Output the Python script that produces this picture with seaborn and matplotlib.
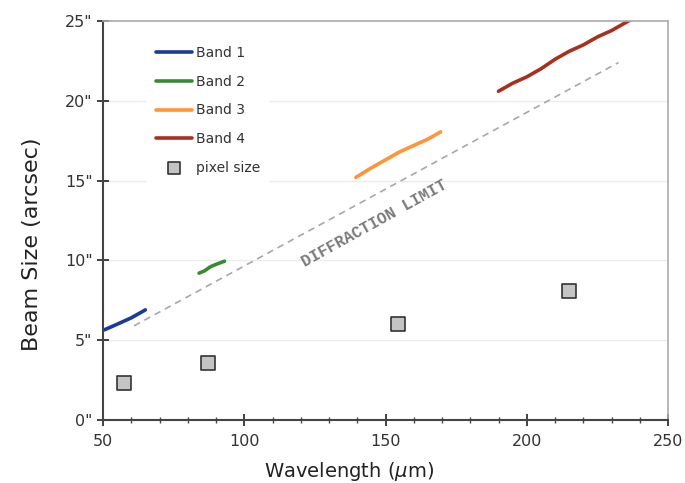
import numpy as np
import pandas as pd
import matplotlib
matplotlib.use("Agg")
import matplotlib.pyplot as plt
import seaborn as sns
from matplotlib.ticker import MultipleLocator, FuncFormatter

band1_wl = [50.5, 55, 60, 65]
band1_beam = [5.65, 6.0, 6.4, 6.9]
band2_wl = [84, 86, 88, 90, 93]
band2_beam = [9.2, 9.35, 9.6, 9.75, 9.95]
band3_wl = [139.5, 145, 150, 155, 160, 165, 169.5]
band3_beam = [15.2, 15.8, 16.3, 16.8, 17.2, 17.6, 18.05]
band4_wl = [190, 195, 200, 205, 210, 215, 220, 225, 230, 235, 238]
band4_beam = [20.6, 21.1, 21.5, 22.0, 22.6, 23.1, 23.5, 24.0, 24.4, 24.9, 25.2]
diff_wl = [61, 232.5]
diff_beam = [5.9, 22.4]
pixel_wl = [57.4, 87.2, 154.3, 214.9]
pixel_size = [2.3, 3.55, 6.0, 8.1]
band_names = ["Band 1", "Band 2", "Band 3", "Band 4"]
band_colors = ["#1a3a9c", "#3a8a34", "#ff9438", "#a8301f"]

sns.set_style("white")
fig = plt.figure(figsize=(6.85, 4.83), dpi=100)
ax = fig.add_axes([103/685, 1-420/483, 565/685, 399/483])

rows = []
for name, wl, bm in zip(band_names, [band1_wl, band2_wl, band3_wl, band4_wl],
                        [band1_beam, band2_beam, band3_beam, band4_beam]):
    for w, b in zip(wl, bm):
        rows.append({"wl": w, "beam": b, "band": name})
df = pd.DataFrame(rows)

for y in [5, 10, 15, 20]:
    ax.axhline(y, color="#ececec", lw=1, zorder=0)

sns.lineplot(data=df, x="wl", y="beam", hue="band", palette=band_colors,
             hue_order=band_names, lw=2.6, ax=ax, sort=True, estimator=None)
sns.lineplot(x=diff_wl, y=diff_beam, ax=ax, color="#a8a8a8", lw=1.2,
             linestyle=(0, (4, 3)), legend=False)
sns.scatterplot(x=pixel_wl, y=pixel_size, ax=ax, marker="s", s=110,
                color="#c4c4c4", edgecolor="#333333", linewidth=1.2,
                label="pixel size", zorder=5)

ax.text(146, 12.3, "DIFFRACTION LIMIT", rotation=29, ha="center", va="center",
        family="Liberation Mono", fontsize=11.5, color="#7a7a7a",
        fontweight="bold", rotation_mode="anchor")

ax.set_xlim(50, 250)
ax.set_ylim(0, 25)
ax.xaxis.set_major_locator(MultipleLocator(50))
ax.xaxis.set_minor_locator(MultipleLocator(10))
ax.yaxis.set_major_locator(MultipleLocator(5))
ax.yaxis.set_major_formatter(FuncFormatter(lambda v, p: f'{int(v)}"'))
ax.tick_params(axis="both", which="major", direction="inout", length=8, width=1.2,
               labelsize=11.5, labelcolor="#333333", bottom=True, left=True, color="#222222")
ax.tick_params(axis="x", which="minor", direction="inout", length=5, width=1,
               bottom=True, color="#444444")
ax.tick_params(axis="x", pad=6)

for s in ["left", "bottom"]:
    ax.spines[s].set_color("#444444")
    ax.spines[s].set_linewidth(1.5)
for s in ["top", "right"]:
    ax.spines[s].set_color("#aaaaaa")
    ax.spines[s].set_linewidth(1.2)

ax.set_xlabel(r"Wavelength ($\mu$m)", fontsize=14, color="#222222")
ax.set_ylabel("Beam Size (arcsec)", fontsize=16, color="#222222")
ax.xaxis.set_label_coords(0.435, -0.1)
ax.yaxis.set_label_coords(-0.108, 0.44)

handles, labels = ax.get_legend_handles_labels()
leg = ax.legend(handles, labels, loc="upper left", bbox_to_anchor=(0.066, 0.975),
                frameon=True, facecolor="white", edgecolor="white", framealpha=1,
                fontsize=10, handlelength=2.6, handletextpad=0.3, labelspacing=1.05,
                borderpad=0.6, markerscale=0.8)
for t in leg.get_texts():
    t.set_color("#333333")

fig.savefig("out.png", dpi=100)
